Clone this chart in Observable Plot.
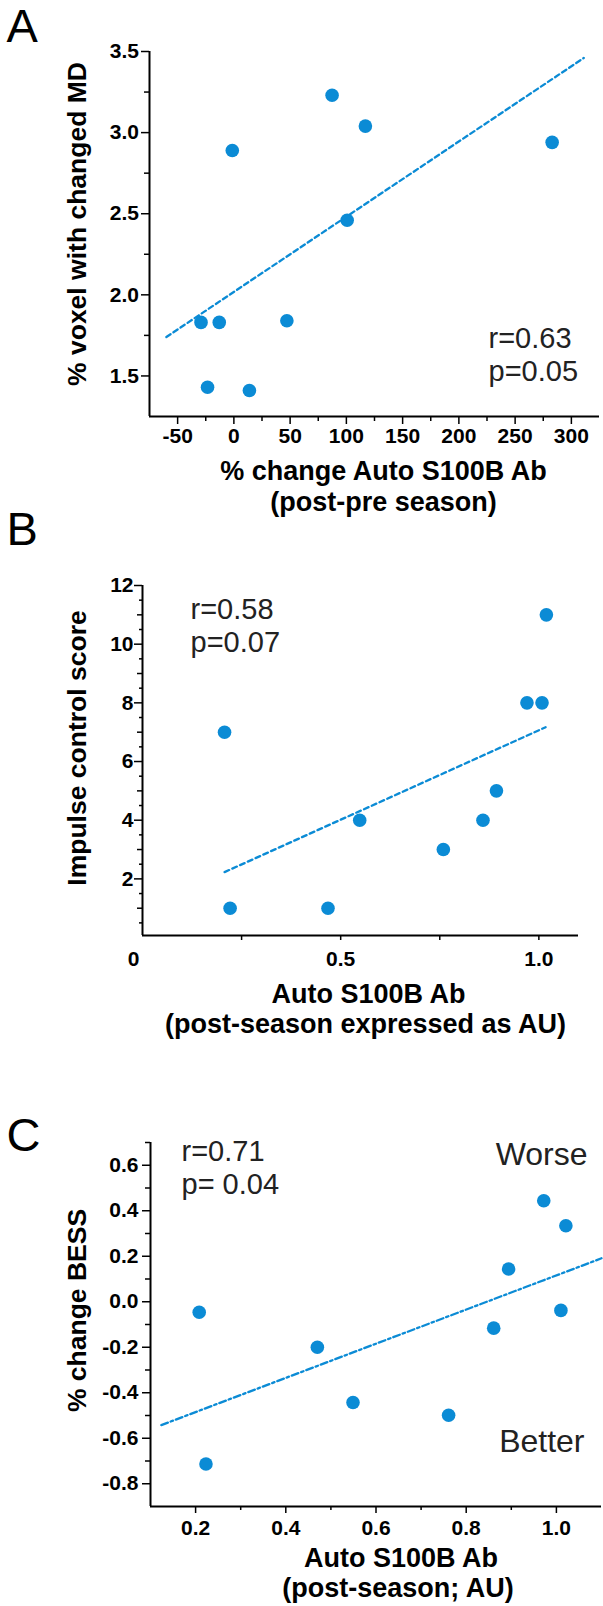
<!DOCTYPE html>
<html><head><meta charset="utf-8">
<script src="https://cdn.jsdelivr.net/npm/d3@7"></script>
<script src="https://cdn.jsdelivr.net/npm/@observablehq/plot@0.6"></script>
<style>
html,body{margin:0;padding:0;background:#fff;}
#chart svg{display:block;overflow:visible;}
</style></head><body><div id="chart"></div>
<script>
const FONT = "'Liberation Sans', Arial, Helvetica, sans-serif";
const BLUE = "#0b8bd5";

// ---------- Panel A ----------
const xA = [-29.2, -13, -23.4, 13.8, 47.1, -1.4, 87.3, 116.9, 100.7, 282.9];
const yA = [1.83, 1.83, 1.43, 1.41, 1.84, 2.89, 3.23, 3.04, 2.46, 2.94];
const trendXA = [-60, 311];
const trendYA = [1.74, 3.46];
const xDomainA = [-75, 325];
const yDomainA = [1.25, 3.5];
const xTicksA = [-50, 0, 50, 100, 150, 200, 250, 300];
const xMinorA = [-25, 25, 75, 125, 175, 225, 275];
const yTicksA = [1.5, 2.0, 2.5, 3.0, 3.5];
const yMinorA = [1.75, 2.25, 2.75, 3.25];
const xLabelA = ["% change Auto S100B Ab", "(post-pre season)"];
const yLabelA = "% voxel with changed MD";
const statsA = "r=0.63\np=0.05";

// ---------- Panel B ----------
const xB = [0.207, 0.221, 0.468, 0.548, 0.759, 0.859, 0.893, 0.970, 1.008, 1.019];
const yB = [7, 1, 1, 4, 3, 4, 5, 8, 8, 11];
const trendXB = [0.207, 1.017];
const trendYB = [2.23, 7.17];
const xDomainB = [0, 1.1];
const yDomainB = [0.07, 12];
const xTicksB = [0.25, 0.5, 0.75, 1.0];
const xTickLabelsB = [0.5, 1.0];
const xZeroLabelB = [0];
const yTicksB = [2, 4, 6, 8, 10, 12];
const yOddB = [1, 3, 5, 7, 9, 11];
const yHalfB = [0.5, 1.5, 2.5, 3.5, 4.5, 5.5, 6.5, 7.5, 8.5, 9.5, 10.5, 11.5];
const xLabelB = ["Auto S100B Ab", "(post-season expressed as AU)"];
const yLabelB = "Impulse control score";
const statsB = "r=0.58\np=0.07";

// ---------- Panel C ----------
const xC = [0.208, 0.223, 0.470, 0.549, 0.761, 0.861, 0.894, 0.972, 1.010, 1.021];
const yC = [-0.046, -0.713, -0.200, -0.443, -0.499, -0.116, 0.144, 0.444, -0.038, 0.334];
const trendXC = [0.124, 1.1];
const trendYC = [-0.542, 0.191];
const xDomainC = [0.1, 1.1];
const yDomainC = [-0.9, 0.7];
const xTicksC = [0.2, 0.4, 0.6, 0.8, 1.0];
const xMinorC = [0.3, 0.5, 0.7, 0.9];
const yTicksC = [-0.8, -0.6, -0.4, -0.2, 0.0, 0.2, 0.4, 0.6];
const yMinorC = [-0.7, -0.5, -0.3, -0.1, 0.1, 0.3, 0.5, 0.7];
const xLabelC = ["Auto S100B Ab", "(post-season; AU)"];
const yLabelC = "% change BESS";
const statsC = "r=0.71\np= 0.04";
const worseLabel = "Worse";
const betterLabel = "Better";

const panelLetters = ["A", "B", "C"];

function table(xs, ys) { return xs.map((x, i) => ({x, y: ys[i]})); }

const axisFont = {fontSize: 21, fontWeight: "bold", fontFamily: FONT};
const titleFont = {fontSize: 27, fontWeight: "bold", fontFamily: FONT, fill: "#000"};
const yTitleFont = {fontSize: 26.5, fontWeight: "bold", fontFamily: FONT, fill: "#000", textAnchor: "middle", lineAnchor: "middle", rotate: -90};
const statFont = {fontSize: 29, fontFamily: FONT, fill: "#222", textAnchor: "start", lineAnchor: "top", lineHeight: 1.14};
const letterFont = {fontSize: 47, fontFamily: FONT, fill: "#000", textAnchor: "start", lineAnchor: "top"};

function common(xDomain, yDomain, pts, trend, dash) {
  return [
    Plot.dot(pts, {x: "x", y: "y", r: 6.8, fill: BLUE, stroke: "none"}),
    Plot.line(trend, {x: "x", y: "y", stroke: BLUE, strokeWidth: 2.3, strokeDasharray: dash}),
    Plot.ruleX([xDomain[0]], {stroke: "#000", strokeWidth: 2}),
    Plot.ruleY([yDomain[0]], {stroke: "#000", strokeWidth: 2})
  ];
}

// Panel A plot
const plotA = Plot.plot({
  width: 603, height: 530,
  marginLeft: 149, marginRight: 4, marginTop: 51, marginBottom: 114,
  style: {fontFamily: FONT, overflow: "visible", background: "#fff"},
  x: {domain: xDomainA, axis: null},
  y: {domain: yDomainA, axis: null},
  marks: [
    ...common(xDomainA, yDomainA, table(xA, yA), table(trendXA, trendYA), "5,3.5"),
    Plot.axisX({ticks: xTicksA, tickSize: 8, tickPadding: 4, tickFormat: d => String(d), strokeWidth: 1.5, label: null, ...axisFont}),
    Plot.axisX({ticks: xMinorA, tickSize: 5, tickFormat: () => "", strokeWidth: 1.5, label: null}),
    Plot.axisY({ticks: yTicksA, tickSize: 8, tickPadding: 2.5, tickFormat: d => d.toFixed(1), strokeWidth: 1.5, label: null, ...axisFont}),
    Plot.axisY({ticks: yMinorA, tickSize: 5, tickFormat: () => "", strokeWidth: 1.5, label: null}),
    Plot.text([xLabelA[0]], {text: d => d, frameAnchor: "bottom", dx: 9, dy: 55, lineAnchor: "middle", ...titleFont}),
    Plot.text([xLabelA[1]], {text: d => d, frameAnchor: "bottom", dx: 9, dy: 86, lineAnchor: "middle", ...titleFont}),
    Plot.text([yLabelA], {text: d => d, frameAnchor: "left", dx: -72, dy: -10, ...yTitleFont}),
    Plot.text([statsA], {text: d => d, frameAnchor: "top-left", dx: 339, dy: 273, ...statFont}),
    Plot.text([panelLetters[0]], {text: d => d, frameAnchor: "top-left", dx: -143, dy: -43, ...letterFont})
  ]
});

// Panel B plot
const plotB = Plot.plot({
  width: 603, height: 530,
  marginLeft: 142, marginRight: 25, marginTop: 55, marginBottom: 125,
  style: {fontFamily: FONT, overflow: "visible", background: "#fff"},
  x: {domain: xDomainB, axis: null},
  y: {domain: yDomainB, axis: null},
  marks: [
    ...common(xDomainB, yDomainB, table(xB, yB), table(trendXB, trendYB), "5,3.5"),
    Plot.axisX({ticks: xTicksB, tickSize: 5, tickFormat: () => "", strokeWidth: 1.5, label: null}),
    Plot.axisX({ticks: xTickLabelsB, tickSize: 0, tickPadding: 16, tickFormat: d => d.toFixed(1), label: null, ...axisFont}),
    Plot.axisX({ticks: xZeroLabelB, tickSize: 0, tickPadding: 16, dx: -9, tickFormat: d => String(d), label: null, ...axisFont}),
    Plot.axisY({ticks: yTicksB, tickSize: 8, tickPadding: 1, tickFormat: d => String(d), strokeWidth: 1.5, label: null, ...axisFont}),
    Plot.axisY({ticks: yOddB, tickSize: 5, tickFormat: () => "", strokeWidth: 1.5, label: null}),
    Plot.axisY({ticks: yHalfB, tickSize: 3, tickFormat: () => "", strokeWidth: 1.5, label: null}),
    Plot.text([xLabelB[0]], {text: d => d, frameAnchor: "bottom", dx: 8, dy: 59, lineAnchor: "middle", ...titleFont}),
    Plot.text([xLabelB[1]], {text: d => d, frameAnchor: "bottom", dx: 5, dy: 89, lineAnchor: "middle", ...titleFont}),
    Plot.text([yLabelB], {text: d => d, frameAnchor: "left", dx: -64.5, dy: -12.5, ...yTitleFont}),
    Plot.text([statsB], {text: d => d, frameAnchor: "top-left", dx: 48, dy: 10, ...statFont}),
    Plot.text([panelLetters[1]], {text: d => d, frameAnchor: "top-left", dx: -136, dy: -74, ...letterFont})
  ]
});

// Panel C plot
const plotC = Plot.plot({
  width: 603, height: 546,
  marginLeft: 150, marginRight: 2, marginTop: 82, marginBottom: 100,
  style: {fontFamily: FONT, overflow: "visible", background: "#fff"},
  x: {domain: xDomainC, axis: null},
  y: {domain: yDomainC, axis: null},
  marks: [
    ...common(xDomainC, yDomainC, table(xC, yC), table(trendXC, trendYC), "7,3,2.5,3"),
    Plot.axisX({ticks: xTicksC, tickSize: 7, tickPadding: 7, tickFormat: d => d.toFixed(1), strokeWidth: 1.5, label: null, ...axisFont}),
    Plot.axisX({ticks: xMinorC, tickSize: 4, tickFormat: () => "", strokeWidth: 1.5, label: null}),
    Plot.axisY({ticks: yTicksC, tickSize: 8, tickPadding: 4, tickFormat: d => d.toFixed(1), strokeWidth: 1.5, label: null, ...axisFont}),
    Plot.axisY({ticks: yMinorC, tickSize: 5, tickFormat: () => "", strokeWidth: 1.5, label: null}),
    Plot.text([xLabelC[0]], {text: d => d, frameAnchor: "bottom", dx: 25, dy: 52, lineAnchor: "middle", ...titleFont}),
    Plot.text([xLabelC[1]], {text: d => d, frameAnchor: "bottom", dx: 22, dy: 82, lineAnchor: "middle", ...titleFont}),
    Plot.text([yLabelC], {text: d => d, frameAnchor: "left", dx: -72.5, dy: -14, ...yTitleFont}),
    Plot.text([statsC], {text: d => d, frameAnchor: "top-left", dx: 31, dy: -5, ...statFont}),
    Plot.text([worseLabel], {text: d => d, frameAnchor: "top-right", dx: -14, dy: 0, fontSize: 32, fontFamily: FONT, fill: "#222", textAnchor: "end", lineAnchor: "top"}),
    Plot.text([betterLabel], {text: d => d, frameAnchor: "bottom-right", dx: -17, dy: -77, fontSize: 32, fontFamily: FONT, fill: "#222", textAnchor: "end", lineAnchor: "top"}),
    Plot.text([panelLetters[2]], {text: d => d, frameAnchor: "top-left", dx: -144, dy: -25, ...letterFont})
  ]
});

const root = document.getElementById("chart");
root.append(plotA, plotB, plotC);
</script></body></html>
